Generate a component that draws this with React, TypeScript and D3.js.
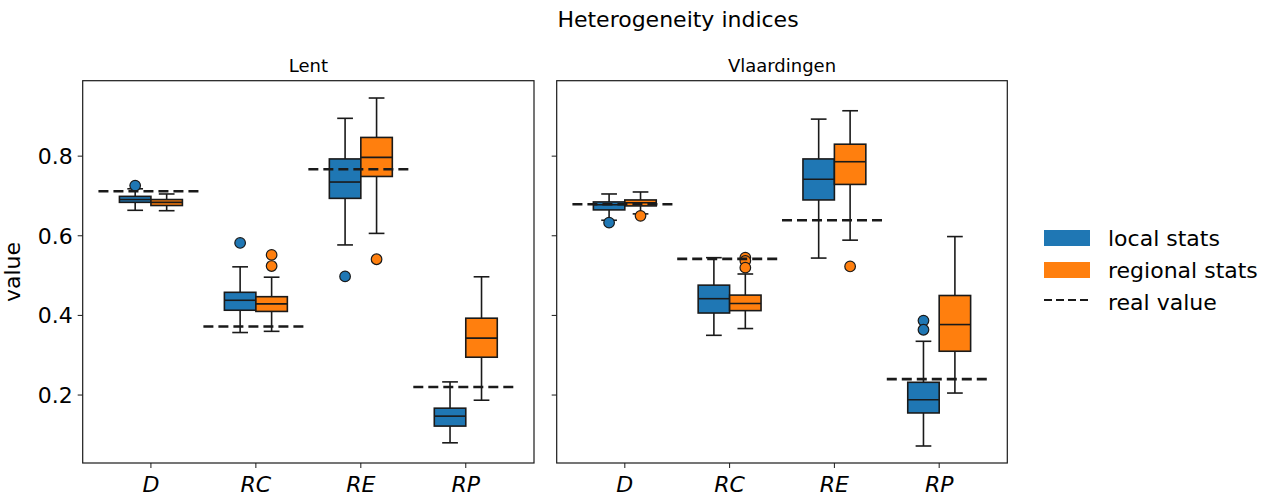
import React from "react";
import * as d3 from "d3";

// indices on the x axis
const categories = ["D", "RC", "RE", "RP"];
const yTicks = [0.2, 0.4, 0.6, 0.8];

// box stats: [lowWhisker, q1, median, q3, highWhisker]
const lentLocal = [
  [0.664, 0.684, 0.691, 0.699, 0.718],
  [0.357, 0.413, 0.438, 0.458, 0.522],
  [0.577, 0.694, 0.735, 0.793, 0.895],
  [0.080, 0.122, 0.147, 0.167, 0.233],
];
const lentLocalOut = [[0.726], [0.582], [0.498], []];
const lentRegional = [
  [0.663, 0.676, 0.684, 0.691, 0.705],
  [0.360, 0.410, 0.429, 0.447, 0.496],
  [0.606, 0.749, 0.797, 0.847, 0.946],
  [0.187, 0.295, 0.343, 0.393, 0.497],
];
const lentRegionalOut = [[], [0.552, 0.524], [0.541], []];
const lentReal = [0.712, 0.372, 0.767, 0.220];

const vlaLocal = [
  [0.639, 0.665, 0.678, 0.685, 0.705],
  [0.350, 0.406, 0.442, 0.476, 0.545],
  [0.544, 0.690, 0.742, 0.793, 0.893],
  [0.072, 0.155, 0.188, 0.232, 0.335],
];
const vlaLocalOut = [[0.633], [], [], [0.387, 0.364]];
const vlaRegional = [
  [0.655, 0.675, 0.683, 0.690, 0.710],
  [0.367, 0.412, 0.430, 0.451, 0.504],
  [0.589, 0.729, 0.786, 0.830, 0.914],
  [0.205, 0.310, 0.377, 0.450, 0.598],
];
const vlaRegionalOut = [[0.650], [0.545, 0.537, 0.520], [0.523], []];
const vlaReal = [0.679, 0.542, 0.639, 0.240];

const BLUE = "#1f77b4";
const ORANGE = "#ff7f0e";
const INK = "#1a1a1a";
const FONT = "DejaVu Sans, sans-serif";

const TOP = 80.7;
const BOTTOM = 463;

const Panel = ({ left, right, title, local, localOut, regional, regionalOut, real, showLabels }) => {
  const x = d3.scaleLinear().domain([-0.65, 3.65]).range([left, right]);
  const y = d3.scaleLinear().domain([0.0293, 0.9895]).range([BOTTOM, TOP]);
  const bw = x(0.3) - x(0);
  const cap = bw / 2;

  const drawBox = (stats, outs, offset, color, key) => (
    <g key={key}>
      {stats.map((s, i) => {
        const cx = x(i + offset);
        const [lo, q1, med, q3, hi] = s;
        return (
          <g key={i}>
            <line x1={cx} x2={cx} y1={y(q3)} y2={y(hi)} stroke={INK} strokeWidth={1.6} />
            <line x1={cx} x2={cx} y1={y(q1)} y2={y(lo)} stroke={INK} strokeWidth={1.6} />
            <line x1={cx - cap / 2} x2={cx + cap / 2} y1={y(hi)} y2={y(hi)} stroke={INK} strokeWidth={1.6} />
            <line x1={cx - cap / 2} x2={cx + cap / 2} y1={y(lo)} y2={y(lo)} stroke={INK} strokeWidth={1.6} />
            <rect
              x={cx - bw / 2}
              y={y(q3)}
              width={bw}
              height={y(q1) - y(q3)}
              fill={color}
              stroke={INK}
              strokeWidth={1.6}
            />
            <line x1={cx - bw / 2} x2={cx + bw / 2} y1={y(med)} y2={y(med)} stroke={INK} strokeWidth={1.6} />
            {outs[i].map((v, j) => (
              <circle key={j} cx={cx} cy={y(v)} r={5.3} fill={color} stroke={INK} strokeWidth={1.2} />
            ))}
          </g>
        );
      })}
    </g>
  );

  return (
    <g>
      <text x={(left + right) / 2} y={72} textAnchor="middle" fontSize={18} fontFamily={FONT} fill="#000">
        {title}
      </text>
      {yTicks.map((t) => (
        <g key={t}>
          <line x1={left - 5} x2={left} y1={y(t)} y2={y(t)} stroke={INK} strokeWidth={1} />
          {showLabels && (
            <text x={left - 10} y={y(t)} dy="0.36em" textAnchor="end" fontSize={22} fontFamily={FONT} fill="#000">
              {t.toFixed(1)}
            </text>
          )}
        </g>
      ))}
      {categories.map((c, i) => (
        <g key={c}>
          <line x1={x(i)} x2={x(i)} y1={BOTTOM} y2={BOTTOM + 5} stroke={INK} strokeWidth={1} />
          <text x={x(i)} y={BOTTOM + 29} textAnchor="middle" fontSize={22} fontStyle="italic" fontFamily={FONT} fill="#000">
            {c}
          </text>
        </g>
      ))}
      {drawBox(local, localOut, -0.15, BLUE, "l")}
      {drawBox(regional, regionalOut, 0.15, ORANGE, "r")}
      {real.map((v, i) => (
        <line
          key={i}
          x1={x(i - 0.5)}
          x2={x(i + 0.5)}
          y1={y(v)}
          y2={y(v)}
          stroke={INK}
          strokeWidth={2.6}
          strokeDasharray="10,5"
        />
      ))}
      <rect x={left} y={TOP} width={right - left} height={BOTTOM - TOP} fill="none" stroke={INK} strokeWidth={1.2} />
    </g>
  );
};

export default function App() {
  return (
    <svg width={1268} height={498} style={{ position: "absolute", left: 0, top: 0, background: "#fff" }}>
      <text x={678} y={27} textAnchor="middle" fontSize={22} fontFamily={FONT} fill="#000">
        Heterogeneity indices
      </text>
      <text
        transform={`translate(20,272) rotate(-90)`}
        textAnchor="middle"
        fontSize={22}
        fontFamily={FONT}
        fill="#000"
      >
        value
      </text>
      <Panel
        left={82.7}
        right={534}
        title="Lent"
        local={lentLocal}
        localOut={lentLocalOut}
        regional={lentRegional}
        regionalOut={lentRegionalOut}
        real={lentReal}
        showLabels={true}
      />
      <Panel
        left={556.7}
        right={1007.3}
        title="Vlaardingen"
        local={vlaLocal}
        localOut={vlaLocalOut}
        regional={vlaRegional}
        regionalOut={vlaRegionalOut}
        real={vlaReal}
        showLabels={false}
      />
      <g fontFamily={FONT} fontSize={22} fill="#000">
        <rect x={1044} y={230} width={46} height={16} fill={BLUE} />
        <text x={1108} y={246}>local stats</text>
        <rect x={1044} y={262} width={46} height={16} fill={ORANGE} />
        <text x={1108} y={278}>regional stats</text>
        <line x1={1044} x2={1090} y1={300} y2={300} stroke={INK} strokeWidth={2} strokeDasharray="8,4" />
        <text x={1108} y={310}>real value</text>
      </g>
    </svg>
  );
}
